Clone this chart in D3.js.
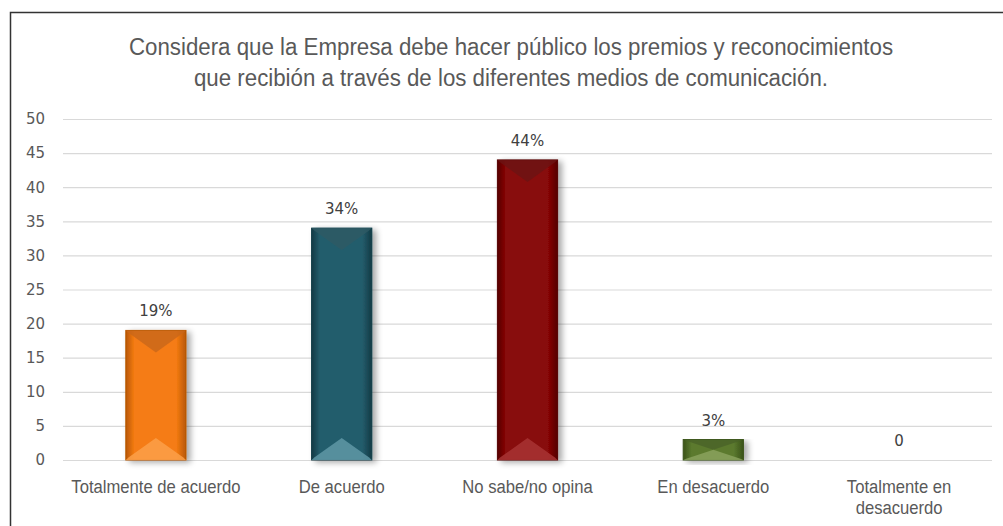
<!DOCTYPE html>
<html>
<head>
<meta charset="utf-8">
<script src="https://cdn.jsdelivr.net/npm/d3@7"></script>
<style>
  body { margin: 0; background: #fff; }
  svg { display: block; }
</style>
</head>
<body>
<svg width="1003" height="526"></svg>
<script>
var categories = [['Totalmente de acuerdo'], ['De acuerdo'], ['No sabe/no opina'], ['En desacuerdo'], ['Totalmente en', 'desacuerdo']];
var values = [19, 34, 44, 3, 0];
var valueLabels = ['19%', '34%', '44%', '3%', '0'];
var yTicks = [0, 5, 10, 15, 20, 25, 30, 35, 40, 45, 50];
var barColors = [
  { base: '#f57b12', dark: '#b85806', light: '#fba049', top: '#c8661a' },
  { base: '#245d6c', dark: '#123a45', light: '#5f98a6', top: '#2f5a64' },
  { base: '#880707', dark: '#560000', light: '#a83434', top: '#6c1414' },
  { base: '#5b7a2f', dark: '#3a5219', light: '#8aa25d', top: '#4a6328' }
];
var titleLines = ['Considera que la Empresa debe hacer público los premios y reconocimientos',
                  'que recibión a través de los diferentes medios de comunicación.'];

var sans = "'Liberation Sans', Arial, sans-serif";
var svg = d3.select('svg');

// chart frame
svg.append('path')
  .attr('d', 'M10.5,530 L10.5,12.5 L1010,12.5')
  .attr('fill', 'none')
  .attr('stroke', '#333')
  .attr('stroke-width', 1.5);

var plotL = 63, plotR = 992, plotT = 119, plotB = 460;

var x = d3.scaleBand()
  .domain(d3.range(categories.length))
  .range([plotL, plotR])
  .paddingInner(0.676)
  .paddingOuter(0.338);

var y = d3.scaleLinear().domain([0, 50]).range([plotB, plotT]);

// title (condensed look)
svg.append('g')
  .attr('transform', 'translate(511,0) scale(0.91,1)')
  .append('text')
  .attr('text-anchor', 'middle')
  .attr('font-family', sans)
  .attr('font-size', 24.5)
  .attr('fill', '#595959')
  .selectAll('tspan')
  .data(titleLines)
  .join('tspan')
  .attr('x', 0)
  .attr('y', function (d, i) { return 55 + i * 31; })
  .text(function (d) { return d; });

// gridlines + tick labels
var yAxis = d3.axisLeft(y).tickValues(yTicks).tickSize(-(plotR - plotL)).tickPadding(18);
var gy = svg.append('g')
  .attr('transform', 'translate(' + plotL + ',0)')
  .call(yAxis);
gy.select('.domain').remove();
gy.selectAll('.tick line').attr('stroke', '#d9d9d9').attr('stroke-width', 1.2);
gy.selectAll('.tick text')
  .attr('font-family', "'DejaVu Sans', Verdana, sans-serif")
  .attr('font-size', 15)
  .attr('fill', '#595959');

// gradients for bars
var defs = svg.append('defs');
barColors.forEach(function (c, i) {
  var g = defs.append('linearGradient').attr('id', 'grad' + i)
    .attr('x1', 0).attr('x2', 1).attr('y1', 0).attr('y2', 0);
  g.append('stop').attr('offset', 0).attr('stop-color', c.dark);
  g.append('stop').attr('offset', 0.14).attr('stop-color', c.base);
  g.append('stop').attr('offset', 0.84).attr('stop-color', c.base);
  g.append('stop').attr('offset', 1).attr('stop-color', c.dark);
});
var sh = defs.append('filter').attr('id', 'shadow')
  .attr('x', '-30%').attr('y', '-10%').attr('width', '160%').attr('height', '130%');
sh.append('feGaussianBlur').attr('in', 'SourceAlpha').attr('stdDeviation', 3);
sh.append('feOffset').attr('dx', 4).attr('dy', 2).attr('result', 'b');
sh.append('feComponentTransfer').append('feFuncA').attr('type', 'linear').attr('slope', 0.35);
var mg = sh.append('feMerge');
mg.append('feMergeNode');
mg.append('feMergeNode').attr('in', 'SourceGraphic');

var barData = values.map(function (v, i) { return { i: i, v: v }; }).filter(function (d) { return d.v > 0; });

var bars = svg.selectAll('g.bar')
  .data(barData)
  .join('g')
  .attr('class', 'bar');

bars.append('rect')
  .attr('x', function (d) { return x(d.i); })
  .attr('y', function (d) { return y(d.v); })
  .attr('width', x.bandwidth())
  .attr('height', function (d) { return y(0) - y(d.v); })
  .attr('fill', function (d) { return 'url(#grad' + d.i + ')'; })
  .attr('stroke', function (d) { return barColors[d.i].dark; })
  .attr('stroke-width', 1)
  .attr('filter', 'url(#shadow)');

// bevel: top and bottom facets (triangles meeting in the middle of the bar)
function facet(d, atTop) {
  var x0 = x(d.i), x1 = x0 + x.bandwidth(), yt = y(d.v), yb = y(0);
  var b = Math.min(22, (yb - yt) / 2);
  var cx = x0 + x.bandwidth() / 2;
  var e = atTop ? yt : yb, s = atTop ? 1 : -1;
  return 'M' + x0 + ',' + e + 'L' + x1 + ',' + e +
    'L' + (x1 - 3) + ',' + (e + s * b * 0.12) +
    'L' + cx + ',' + (e + s * b) +
    'L' + (x0 + 3) + ',' + (e + s * b * 0.12) + 'Z';
}
bars.append('path')
  .attr('fill', function (d) { return barColors[d.i].top; })
  .attr('opacity', 0.8)
  .attr('d', function (d) { return facet(d, true); });
bars.append('path')
  .attr('fill', function (d) { return barColors[d.i].light; })
  .attr('opacity', 0.85)
  .attr('d', function (d) { return facet(d, false); });

// value labels
svg.selectAll('text.val')
  .data(values)
  .join('text')
  .attr('class', 'val')
  .attr('x', function (d, i) { return x(i) + x.bandwidth() / 2; })
  .attr('y', function (d) { return y(d) - 14; })
  .attr('text-anchor', 'middle')
  .attr('font-family', "'DejaVu Sans', Verdana, sans-serif")
  .attr('font-size', 15)
  .attr('fill', '#404040')
  .text(function (d, i) { return valueLabels[i]; });

// category labels
svg.selectAll('g.cat')
  .data(categories)
  .join('g')
  .attr('class', 'cat')
  .attr('transform', function (d, i) { return 'translate(' + (x(i) + x.bandwidth() / 2) + ',0) scale(0.9,1)'; })
  .append('text')
  .attr('text-anchor', 'middle')
  .attr('font-family', sans)
  .attr('font-size', 18.5)
  .attr('fill', '#595959')
  .each(function (lines) {
    d3.select(this).selectAll('tspan')
      .data(lines)
      .join('tspan')
      .attr('x', 0)
      .attr('y', function (d, j) { return 493 + j * 21; })
      .text(function (d) { return d; });
  });
</script>
</body>
</html>
